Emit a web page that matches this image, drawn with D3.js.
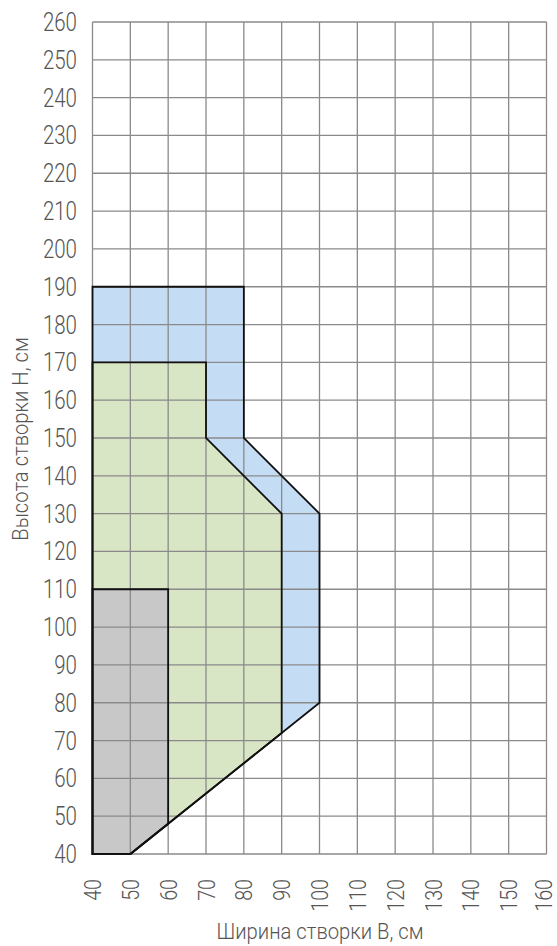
<!DOCTYPE html>
<html>
<head>
<meta charset="utf-8">
<script src="https://cdn.jsdelivr.net/npm/d3@7"></script>
<style>
body { margin: 0; background: #fff; }
text { font-family: "Roboto", sans-serif; font-weight: 300; fill: #555; }
</style>
</head>
<body>
<div id="chart"></div>
<script>
// outlines of the three zones, [width B, height H]
var blueZone = [[40,40],[40,190],[80,190],[80,150],[100,130],[100,80],[50,40]];
var greenZone = [[40,40],[40,170],[70,170],[70,150],[90,130],[90,72],[50,40]];
var grayZone = [[40,40],[40,110],[60,110],[60,48],[50,40]];
var xTicks = d3.range(40, 161, 10);
var yTicks = d3.range(40, 261, 10);

var w = 557, h = 946;
var x = d3.scaleLinear().domain([40,160]).range([92.5,546.5]);
var y = d3.scaleLinear().domain([40,260]).range([854,22]);

var svg = d3.select("#chart").append("svg")
    .attr("width", w)
    .attr("height", h);

var line = d3.line()
    .x(function(d) { return x(d[0]); })
    .y(function(d) { return y(d[1]); })
    .curve(d3.curveLinearClosed);

var zones = [
    {pts: blueZone, fill: "#c5ddf4"},
    {pts: greenZone, fill: "#d9e6c5"},
    {pts: grayZone, fill: "#c8c8c8"}
];

svg.selectAll("path.fill")
    .data(zones)
    .enter().append("path")
    .attr("class","fill")
    .attr("d", function(d) { return line(d.pts); })
    .attr("fill", function(d) { return d.fill; });

// grid
svg.selectAll("line.vx")
    .data(xTicks)
    .enter().append("line")
    .attr("x1", function(d) { return x(d); })
    .attr("x2", function(d) { return x(d); })
    .attr("y1", y(40))
    .attr("y2", y(260))
    .attr("stroke", "#8a8a8a")
    .attr("stroke-width", 1.3);
svg.selectAll("line.hy")
    .data(yTicks)
    .enter().append("line")
    .attr("y1", function(d) { return y(d); })
    .attr("y2", function(d) { return y(d); })
    .attr("x1", x(40))
    .attr("x2", x(160))
    .attr("stroke", "#8a8a8a")
    .attr("stroke-width", 1.3);

svg.selectAll("path.edge")
    .data(zones)
    .enter().append("path")
    .attr("class","edge")
    .attr("d", function(d) { return line(d.pts); })
    .attr("fill", "none")
    .attr("stroke", "#111")
    .attr("stroke-width", 1.8)
    .attr("stroke-linejoin", "miter");

// tick labels, squeezed to look condensed
svg.selectAll("text.yl")
    .data(yTicks)
    .enter().append("text")
    .attr("transform", function(d) { return "translate(77," + y(d) + ") scale(0.82,1)"; })
    .attr("dy", "0.36em")
    .attr("text-anchor", "end")
    .attr("font-size", 25)
    .text(function(d) { return d; });

svg.selectAll("text.xl")
    .data(xTicks)
    .enter().append("text")
    .attr("transform", function(d) { return "translate(" + Math.min(x(d), 543) + ",879) rotate(-90) scale(0.82,1)"; })
    .attr("dy", "0.36em")
    .attr("text-anchor", "end")
    .attr("font-size", 24)
    .text(function(d) { return d; });

svg.append("text")
    .attr("transform", "translate(320,939) scale(0.92,1)")
    .attr("text-anchor", "middle")
    .attr("font-size", 22)
    .text("Ширина створки B, см");

svg.append("text")
    .attr("transform", "translate(28,439) rotate(-90) scale(0.92,1)")
    .attr("text-anchor", "middle")
    .attr("font-size", 22)
    .text("Высота створки H, см");
</script>
</body>
</html>
